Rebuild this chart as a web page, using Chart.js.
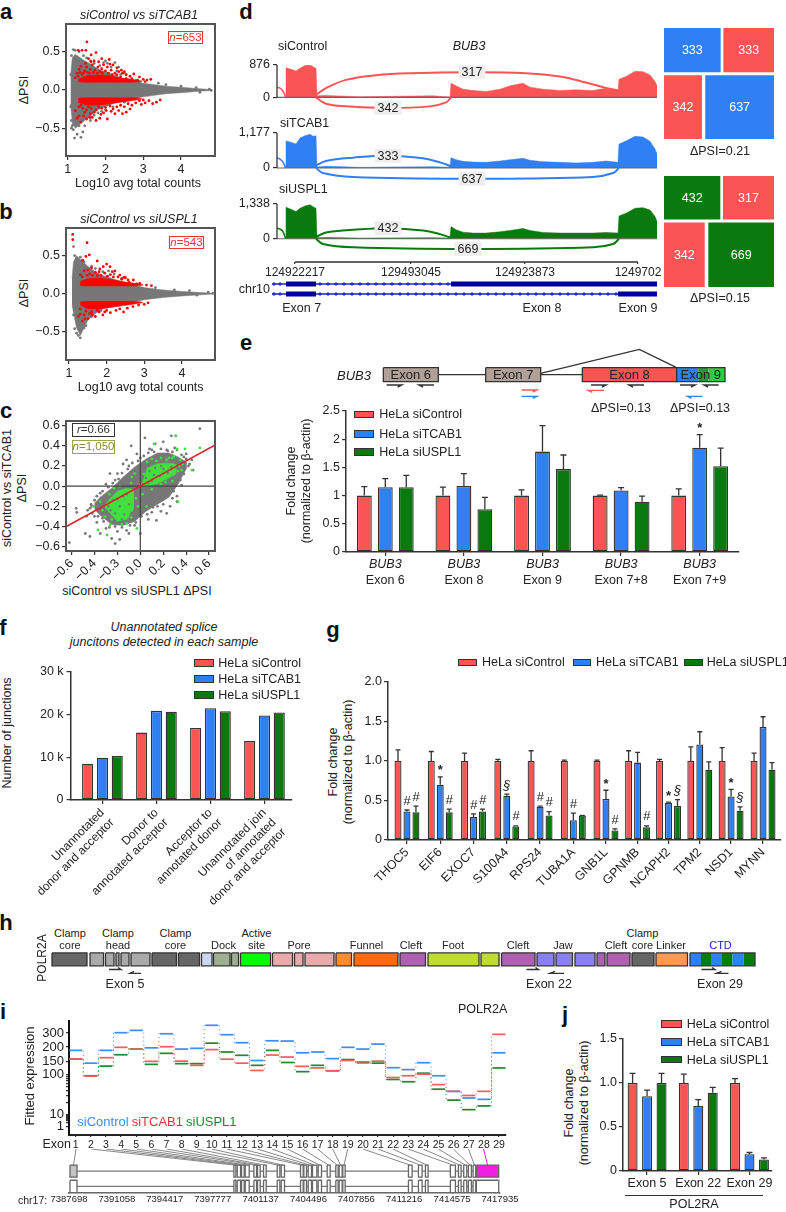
<!DOCTYPE html>
<html>
<head>
  <title>Splicing figure</title>
  <script src="https://cdn.jsdelivr.net/npm/chart.js"></script>
  <style>
    html, body { margin: 0; background: #fff; }
    #page { position: relative; width: 786px; height: 1212px; overflow: hidden; font-family: "Liberation Sans", Arial, sans-serif; color: #222; }
    #page canvas { position: absolute; display: block; }
    .t { position: absolute; white-space: nowrap; line-height: 1; }
    .sw { position: absolute; box-sizing: border-box; border: 1.5px solid #333; }
  </style>
</head>
<body>
<div id="page"></div>
<script>
// colours
const RED = '#fb5454', BLUE = '#2f80f2', GREEN = '#0a7a0f', DARK = '#333';

// panel a
const aEnvX = [1.08,1.12,1.2,1.4,1.6,1.8,2,2.2,2.4,2.6,2.8,3,3.3,3.6,4,4.4,4.8];
const aEnvUp = [.2,.42,.47,.4,.34,.28,.24,.2,.16,.13,.11,.09,.07,.05,.035,.02,.005];
const aEnvLow = [-.2,-.42,-.5,-.42,-.34,-.26,-.22,-.18,-.15,-.13,-.11,-.09,-.07,-.05,-.035,-.02,-.005];
const aBandX = [1.28,1.5,1.8,2.1,2.4,2.7,2.95];
const aBandUp = [.14,.19,.2,.19,.16,.14,.12];
const aBandUpIn = [.105,.1,.1,.1,.1,.1,.11];
const aBandLow = [-.16,-.2,-.2,-.18,-.16,-.14,-.12];
const aBandLowIn = [-.105,-.1,-.1,-.1,-.1,-.1,-.11];
const aRed = [[1.51,.63],[1.38,.52],[1.28,.52],[1.48,.52],[1.75,.49],[1.62,.46],[1.9,.41],[2.1,.4],[1.7,.38],[1.55,.41],[1.35,.31],[1.5,.3],[1.65,.33],[1.8,.3],[1.95,.33],[2.05,.3],[2.2,.33],[2.3,.29],[2.15,.26],[2.35,.24],[1.25,.22],[1.3,.27],[1.45,.25],[1.6,.27],[1.72,.26],[1.85,.24],[2,.25],[2.45,.22],[2.55,.2],[2.65,.18],[2.75,.21],[2.7,.15],[2.9,.17],[3,.14],[3.1,.13],[3.2,.14],[2.85,.13],[2.5,.24],[2.25,.22],[1.42,.22],[2.6,.13],[3.05,.11],[2.4,.17],
  [1.33,.23],[1.38,.2],[1.52,.23],[1.58,.22],[1.68,.23],[1.78,.22],[1.92,.22],[2.08,.22],[2.18,.2],[2.3,.2],[1.28,.18],[1.47,.35],[1.9,.28],[2.12,.34],[2.42,.26],[1.62,.37],[1.82,.37],[1.2,.16],[2.8,.12],[2.55,.15],
  [1.3,-.34],[1.45,-.29],[1.25,-.37],[1.2,-.27],[1.5,-.38],[1.35,-.42],[1.65,-.36],[1.75,-.4],[1.85,-.37],[1.95,-.3],[2.05,-.38],[1.6,-.31],[1.9,-.24],[2.15,-.28],[2.25,-.31],[2.35,-.27],[2.45,-.31],[2.55,-.29],[2.65,-.25],[2.3,-.22],[2.5,-.22],[2.7,-.2],[2.8,-.17],[2.95,-.19],[3.05,-.17],[3.15,-.14],[3.25,-.18],[3.35,-.16],[3.45,-.13],[2.6,-.18],[1.4,-.24],[1.55,-.22],[1.75,-.26],[1.3,-.22],
  [1.35,-.2],[1.62,-.24],[1.82,-.22],[2,-.23],[2.12,-.21],[2.4,-.2],[1.5,-.26],[1.7,-.29],[2.2,-.25],[1.42,-.34],[1.58,-.36],[1.88,-.32],[2.02,-.27],[2.9,-.14],[3,-.13]];
const aGray = [[1.15,.53],[1.2,.52],[1.3,.5],[1.1,.45],[1.12,.22],[1.08,.2],[1.1,-.2],[1.08,-.22],[1.1,-.4],[1.1,-.5],[1.15,-.52],[1.18,-.63],[1.35,-.62],[1.4,-.55],[1.25,-.58],[1.12,-.47],[1.15,-.45],[2,.38],[2.25,.36],[2.35,.3],[1.95,.36],[2.5,.22],[2.6,.12],[2.9,.09],[3.4,.09],[3.6,.07],[4,.05],[4.4,.03],[4.75,.01],[4.8,-.005],[4.5,-.03],[1.6,-.4],[1.45,-.47],[1.3,-.47],
  [1.7,.35],[1.85,.32],[2.05,.35],[2.15,.3],[2.3,.25],[1.5,.42],[1.42,.45],[1.6,.38],[2.4,.2],[2.7,.13],[1.6,-.36],[1.8,-.3],[2,-.26],[2.2,-.22],[2.5,-.16],[1.7,-.33],[1.9,-.28]];

// panel b
const bEnvX = [1.08,1.12,1.2,1.3,1.5,1.7,1.9,2.2,2.6,3,3.5,4,4.5,4.85];
const bEnvUp = [.2,.42,.5,.45,.36,.29,.24,.19,.13,.08,.05,.03,.015,.003];
const bEnvLow = [-.15,-.25,-.45,-.55,-.35,-.26,-.2,-.17,-.12,-.08,-.05,-.03,-.015,-.003];
const bBandX = [1.3,1.5,1.8,2.1,2.4,2.7,2.95];
const bBandUp = [.16,.2,.21,.19,.16,.14,.12];
const bBandUpIn = [.105,.1,.1,.1,.1,.1,.11];
const bBandLow = [-.15,-.2,-.2,-.18,-.16,-.14,-.12];
const bBandLowIn = [-.105,-.1,-.1,-.1,-.1,-.1,-.11];
const bRed = [[1.1,.78],[1.1,.71],[1.48,.67],[1.54,.51],[1.45,.49],[1.36,.44],[2,.39],[1.91,.355],[2.09,.355],[1.75,.43],[1.82,.325],[2.22,.3],[2.35,.245],[2.46,.215],[2.57,.18],[2.71,.18],[2.88,.136],[3.06,.114],[3.19,.105],[1.4,.3],[1.6,.34],[1.7,.28],[1.3,.25],[1.55,.26],[1.95,.27],[2.1,.25],[2.3,.22],[2.5,.21],[1.85,.24],
  [1.35,.22],[1.48,.24],[1.62,.24],[1.75,.24],[2.02,.23],[2.18,.22],[2.4,.19],[1.5,.31],[1.8,.29],[2.15,.29],[2.6,.15],[2.8,.13],
  [1.3,-.2],[1.4,-.28],[1.5,-.33],[1.55,-.26],[1.7,-.3],[1.25,-.3],[1.35,-.36],[1.8,-.24],[1.9,-.28],[2,-.22],[2.1,-.25],[2.25,-.22],[2.35,-.2],[2.45,-.24],[2.55,-.19],[2.7,-.17],[2.85,-.15],[3,-.14],[3.1,-.12],[1.6,-.24],[1.45,-.23],[1.75,-.22],[1.3,-.27],[1.42,-.33],[1.62,-.28],[1.95,-.24]];
const bGray = [[1.12,.62],[1.15,.5],[1.2,.46],[1.3,.48],[1.4,.42],[1.7,.33],[2.2,.26],[2.4,.2],[2.8,.12],[3.3,.08],[3.8,.05],[4.2,.04],[4.7,.02],[4.82,.005],[1.12,-.28],[1.2,-.52],[1.3,-.58],[1.25,-.55],[1.15,-.46],[1.45,-.42],[4.4,-.02],[1.6,.36],[1.9,.29],[2.05,.3],[1.4,-.45],[1.6,-.3],[1.85,-.22]];

// panel c
const cEnvX = [-.4,-.35,-.25,-.15,-.05,.05,.15,.25,.33,.4];
const cEnvUp = [-.17,-.11,-.02,.09,.19,.27,.33,.33,.29,.24];
const cEnvLow = [-.23,-.29,-.38,-.39,-.35,-.25,-.18,-.11,.02,.17];
const cLobeLeftX = [-.31,-.27,-.2,-.12,-.06];
const cLobeLeftUp = [-.19,-.13,-.05,-.02,-.03];
const cLobeLeftLow = [-.21,-.26,-.35,-.33,-.23];
const cLobeRightX = [.02,.06,.14,.23,.31];
const cLobeRightUp = [.04,.18,.22,.23,.22];
const cLobeRightLow = [0,0,.02,.07,.12];
const cGray = [[.52,.57],[.31,.5],[.27,.5],[.04,.48],[-.08,.4],[.13,.42],[.2,.44],[.4,.32],[.45,.26],[.46,.16],[.36,.01],[.32,-.1],[.32,-.155],[.23,-.27],[.14,-.34],[0,-.47],[-.1,-.47],[-.18,-.53],[-.22,-.57],[-.25,-.52],[-.35,-.47],[-.48,-.47],[-.44,-.5],[-.62,-.56],[-.56,-.22],[-.555,-.26],[-.46,-.24],[-.4,-.14],[-.425,-.2],[-.35,-.07],[-.265,.125],[-.2,.125],[-.15,.22],[-.12,.26],[-.03,.32],[.08,.37],[.23,.36],[.32,.36],[.38,.29],[.26,-.2],[.18,-.25],[.07,-.33],[-.05,-.39],[-.3,-.42],[-.38,-.36],[-.47,-.3],
  [-.3,.02],[-.22,.06],[-.1,.2],[0,.28],[.1,.36],[.3,.38],[.42,.2],[.28,-.12],[.2,-.18],[.1,-.26],[-.12,-.44],[-.2,-.45],[-.32,-.35],[-.4,-.3],[-.44,-.22],
  [-.38,-.1],[-.33,-.05],[-.28,-.01],[-.24,.03],[-.19,.07],[-.16,.13],[-.11,.17],[-.07,.23],[-.02,.25],[.03,.3],[.07,.33],[.12,.34],[.18,.37],[.24,.35],[.28,.34],[.36,.31],[.4,.27],[.43,.22],[.38,.12],[.35,.06],[.31,.01],[.29,-.05],[.24,-.1],[.2,-.13],[.15,-.2],[.11,-.21],[.06,-.28],[.01,-.3],[-.04,-.36],[-.09,-.39],[-.16,-.41],[-.22,-.4],[-.27,-.41],[-.33,-.32],[-.37,-.3],[-.42,-.27],[-.43,-.18]];
const cSpeckle = [[-.28,-.2],[-.24,-.14],[-.22,-.27],[-.18,-.2],[-.15,-.1],[-.14,-.28],[-.1,-.18],[-.08,-.27],[-.16,-.33],[-.26,-.24],[.05,.08],[.08,.15],[.1,.05],[.13,.18],[.17,.1],[.2,.17],[.24,.13],[.27,.19],[.12,.11],[.07,.03],[.18,.2],[-.2,-.13],[-.12,-.08]];
const cGreen = [[.31,.5],[.12,.42],[.52,.38],[.39,.37],[.32,.37],[.29,.29],[.37,.22],[.45,.16],[.36,.16],[.33,-.155],[-.35,-.155],[-.41,-.2],[-.37,-.435],[-.29,-.485],[-.265,-.385],[-.12,-.37],[-.03,-.42],[-.19,-.3],[.055,-.2],[-.05,.125],[-.075,.09],[.25,.28],[.35,.26],
  [-.31,-.3],[-.25,-.33],[-.16,-.38],[-.08,-.31],[-.02,-.2],[.02,-.08],[.03,.12],[.1,.27],[.18,.28],[.28,.28],[.34,.2],[.28,.05],[.18,.02],[-.27,-.08],[-.18,0],[-.08,.03],[-.33,-.24],[-.23,-.02],[-.04,-.12],[.0,.02],[.06,.24],[.14,.25],[.23,.26],[.33,.15],[.22,.04],[.1,-.03]];
const cLineX = [-.65,.65];
const cLineY = [-.403,.406];
const cXTicks = [-.6,-.4,-.2,0,.2,.4,.6];
const cXLabels = ['\u22120.6','\u22120.4','\u22120.3','0.0','0.2','0.4','0.6'];
const cYTicks = [-.6,-.4,-.2,0,.2,.4,.6];
const cYLabels = ['\u22120.6','\u22120.4','\u22120.2','0.0','0.2','0.4','0.6'];

// panel d: read coverage along the locus
const dPos = [9,9,14,19,23,28,33,36,39,40,49,83,156,173,174,179,186,196,209,223,233,246,253,266,283,299,316,329,341,342,349,358,366,373,378,380,380];
const dControl = [0,805,760,715,787,865,876,831,787,45,54,18,45,9,384,313,224,188,161,224,313,384,277,224,188,206,188,250,188,492,563,706,697,608,429,313,0];
const dTCAB = [0,907,862,806,1008,1086,1131,1064,1086,34,56,22,45,22,347,280,224,202,190,235,280,325,258,213,190,168,190,235,190,806,907,1064,1042,896,638,482,0];
const dUSPL = [0,1210,1134,1045,1172,1261,1312,1236,1172,38,51,25,38,25,471,344,255,217,217,268,319,395,319,242,217,217,217,242,217,879,981,1172,1198,1108,854,662,0];
const arcRedUpX = [39,49,69,99,133,195,249,283,309,329,341];
const arcRedUpY = [72,250,474,599,653,679,653,563,402,259,188];
const arcRedLowX = [39,49,69,111,153,169,174];
const arcRedLowY = [0,-170,-241,-286,-241,-134,0];
const arcBlueUpX = [39,49,76,111,146,163,174];
const arcBlueUpY = [90,235,347,414,325,190,56];
const arcBlueLowX = [39,46,76,195,316,336,342];
const arcBlueLowY = [0,-168,-302,-358,-302,-168,0];
const arcGreenUpX = [39,49,76,111,146,163,174];
const arcGreenUpY = [64,242,344,408,319,178,38];
const arcGreenLowX = [39,46,76,191,316,336,342];
const arcGreenLowY = [0,-204,-331,-395,-331,-204,0];
const stubX = [0,3,6,8.6];
const stubRedY = [277,250,170,0];
const stubBlueY = [336,300,200,0];
const stubGreenY = [408,370,270,0];
const dRulerTicks = [18,134,248,361];
const dRulerLabels = ['124922217','129493045','124923873','1249702'];
const dTrackTicksA = [-3,3,43,51,59,67,75,83,91,99,107,115,123,131,139,147,155,163,171];
const dTrackTicksB = [-3,3,43,51,59,67,75,83,91,99,107,115,123,131,139,147,155,163,171,179,187,195,203,211,219,227,235,243,251,259,267,275,283,291,299,307,315,323,331,339];
const mosaicACounts = [333,333,342,637];
const mosaicAColors = [BLUE,RED,RED,BLUE];
const mosaicAX = [[0,.515],[.54,1],[0,.345],[.375,1]];
const mosaicAY = [[0,.398],[0,.398],[.425,1],[.425,1]];
const mosaicBCounts = [432,317,342,669];
const mosaicBColors = [GREEN,RED,RED,GREEN];
const mosaicBX = [[0,.512],[.536,1],[0,.37],[.403,1]];
const mosaicBY = [[0,.391],[0,.391],[.418,1],[.418,1]];

// panel e
const eLabels = ['Exon 6','Exon 8','Exon 9','Exon 7+8','Exon 7+9'];
const ePos = [1,2,3,4,5];
const eControl = [1,1,1,1,1];
const eControlErr = [.16,.15,.1,.01,.12];
const eTCAB = [1.15,1.17,1.78,1.09,1.85];
const eTCABErr = [.15,.22,.46,.05,.23];
const eTCABMarks = ['','','','','*'];
const eUSPL = [1.15,.76,1.47,.89,1.52];
const eUSPLErr = [.21,.21,.25,.1,.32];

// panel f
const fLabels = [['Unannotated','donor and acceptor'],['Donor to','annotated acceptor'],['Acceptor to','annotated donor'],['Unannotated join','of annotated','donor and acceptor']];
const fPos = [1,2,3,4];
const fControl = [8500,15800,16900,13800];
const fTCAB = [9900,20900,21500,19800];
const fUSPL = [10300,20700,20800,20500];

// panel g
const gGenes = ['THOC5','EIF6','EXOC7','S100A4','RPS24','TUBA1A','GNB1L','GPNMB','NCAPH2','TPM2','NSD1','MYNN'];
const gPos = [1,2,3,4,5,6,6.98,7.93,8.86,9.8,10.74,11.7];
const gControl = [1,1,1,1,1,1,1,1,1,1,1,1];
const gControlErr = [.14,.12,.1,.02,.13,.01,.01,.13,.02,.18,.17,.1];
const gTCAB = [.36,.7,.29,.56,.42,.25,.52,.98,.47,1.21,.55,1.43];
const gTCABErr = [.02,.1,.04,.02,.01,.09,.11,.13,.01,.16,.09,.13];
const gTCABMarks = ['#','*','#','\u00a7','#','#','*','','*','','*',''];
const gUSPL = [.35,.35,.36,.17,.31,.31,.12,.16,.43,.89,.37,.89];
const gUSPLErr = [.08,.04,.03,.01,.05,0,.02,.02,.08,.1,.05,.09];
const gUSPLMarks = ['#','#','#','#','#','','#','#','\u00a7','','\u00a7',''];

// panel h: protein domains along POLR2A
const hStart = [104,180,211,232,242,262,304,357,403,427,463,481,545,589,610,672,708,800,856,962,1003,1074,1112,1150,1194,1214,1264,1312,1380,1402,1422,1444,1465,1487];
const hEnd = [174,207,228,238,258,300,353,399,424,460,477,541,585,606,668,703,796,851,958,998,1070,1108,1145,1190,1210,1260,1308,1375,1402,1422,1444,1465,1487,1510];
const hColors = ['#666','#aaa','#aaa','#aaa','#aaa','#aaa','#666','#666','#c8d8f0','#9fb090','#9fb090','#0f0','#e8aaaa','#e8aaaa','#e8aaaa','#ff8c33','#ff6a10','#b060b0','#c0dc30','#c0dc30','#b060b0','#8a80f0','#8a80f0','#8a80f0','#b060b0','#b060b0','#666','#ff9955',BLUE,GREEN,BLUE,GREEN,BLUE,GREEN];

// panel i
const iExons = [1,2,3,4,5,6,7,8,9,10,11,12,13,14,15,16,17,18,19,20,21,22,23,24,25,26,27,28,29];
const iControl = [187,141,187,303,324,197,294,192,195,375,286,227,152,240,238,178,181,158,199,192,218,123,116,143,93,38,26,24,178];
const iTCAB = [157,91,161,199,192,149,202,150,132,190,156,141,113,170,163,128,122,112,152,147,150,84,93,101,56,38,30,38,289];
const iUSPL = [157,93,129,171,192,136,176,139,139,224,181,169,132,187,144,109,132,112,155,143,141,75,66,104,43,23,13.3,16.5,122];
const iYMajor = [1,10,100,150,200,300];
const iYMinor = [2,3,4,5,6,7,8,9,20,30,40,50,60,70,80,90];
const iAxisAnchor = [0,12,52,65.3,79.3,93.3];
const iGeneStart = [7387768,7399266,7399500,7399804,7400061,7400668,7400925,7401346,7402304,7402585,7403940,7404174,7404478,7404781,7405179,7405810,7406417,7406651,7406908,7411512,7412213,7412704,7414456,7415018,7415391,7415718,7416046,7416279];
const iGeneEnd = [7388259,7399406,7399734,7399991,7400341,7400855,7401112,7401533,7402491,7402818,7404127,7404361,7404711,7405085,7405412,7406020,7406581,7406861,7407072,7411769,7412470,7412891,7414807,7415204,7415602,7415929,7416233,7417845];
const iChrom = [7387698,7391058,7394417,7397777,7401137,7404496,7407856,7411216,7414575,7417935];

// panel j
const jLabels = ['Exon 5','Exon 22','Exon 29'];
const jPos = [1,2,3];
const jControl = [1,1,1];
const jControlErr = [.11,.1,.05];
const jTCAB = [.85,.74,.19];
const jTCABErr = [.07,.07,.02];
const jUSPL = [1,.89,.13];
const jUSPLErr = [.11,.06,.02];

Chart.defaults.font.family = '"Liberation Sans", Arial, sans-serif';
Chart.defaults.font.size = 12.5;
Chart.defaults.color = '#222';
Chart.defaults.animation = false;
Chart.defaults.plugins.legend.display = false;
Chart.defaults.plugins.tooltip.enabled = false;

const page = document.getElementById('page');

// error bars + significance marks, box captions, arc tags
Chart.register({
  id: 'extras',
  afterDatasetsDraw(chart) {
    const ctx = chart.ctx;
    chart.data.datasets.forEach((ds, i) => {
      const meta = chart.getDatasetMeta(i);
      if (ds.errs) {
        const y = chart.scales.y;
        meta.data.forEach((el, j) => {
          const top = y.getPixelForValue(ds.data[j].y + ds.errs[j]);
          ctx.strokeStyle = DARK;
          ctx.lineWidth = 1.3;
          ctx.beginPath();
          ctx.moveTo(el.x, el.y);
          ctx.lineTo(el.x, top);
          ctx.moveTo(el.x - (ds.cap || 3), top);
          ctx.lineTo(el.x + (ds.cap || 3), top);
          ctx.stroke();
          if (ds.marks && ds.marks[j]) {
            ctx.fillStyle = '#222';
            ctx.textAlign = 'center';
            ctx.textBaseline = 'middle';
            ctx.font = (ds.marks[j] === '*' ? 'bold 13px ' : 'italic 13px ') + Chart.defaults.font.family;
            ctx.fillText(ds.marks[j], el.x, top - (ds.marks[j] === '*' ? 6 : 9));
          }
        });
      }
      if (ds.tag) {
        const p = meta.data[ds.tagAt];
        ctx.font = '12.5px ' + Chart.defaults.font.family;
        const w = ctx.measureText(ds.tag).width + 6;
        ctx.fillStyle = '#eee';
        ctx.fillRect(p.x - w / 2, p.y - 7, w, 14);
        ctx.fillStyle = '#222';
        ctx.textAlign = 'center';
        ctx.textBaseline = 'middle';
        ctx.fillText(ds.tag, p.x, p.y + .5);
      }
      if (ds.caption) {
        ctx.font = (ds.captionFont || '12.5px ') + Chart.defaults.font.family;
        ctx.fillStyle = ds.captionColor || '#222';
        ctx.textAlign = 'center';
        ctx.textBaseline = 'middle';
        ctx.fillText(ds.caption, (meta.data[0].x + meta.data[2].x) / 2, (meta.data[0].y + meta.data[2].y) / 2 + .5);
      }
    });
  }
});

// box around a plot
Chart.register({
  id: 'frame',
  afterDraw(chart, args, opts) {
    if (!opts.color) return;
    const a = chart.chartArea;
    chart.ctx.strokeStyle = opts.color;
    chart.ctx.lineWidth = opts.width || 2;
    chart.ctx.strokeRect(a.left, a.top, a.right - a.left, a.bottom - a.top);
  }
});

// italic gene name above each tick label in panel e
Chart.register({
  id: 'groupTitle',
  afterDraw(chart, args, opts) {
    if (!opts.text) return;
    const ctx = chart.ctx;
    ctx.font = 'italic 12.5px ' + Chart.defaults.font.family;
    ctx.fillStyle = '#222';
    ctx.textAlign = 'center';
    ctx.textBaseline = 'middle';
    chart.scales.x.ticks.forEach(tk => ctx.fillText(opts.text, chart.scales.x.getPixelForValue(tk.value), chart.chartArea.bottom + opts.gap));
  }
});

// leader lines from the exon numbers down to the gene model
Chart.register({
  id: 'leaders',
  beforeDatasetsDraw(chart, args, opts) {
    if (!opts.exons) return;
    const ctx = chart.ctx, xe = chart.scales.xe, x = chart.scales.x, y = chart.scales.y;
    opts.exons.forEach((n, i) => {
      if (i >= iGeneStart.length) return;
      ctx.strokeStyle = i === iGeneStart.length - 1 ? '#d020c0' : '#888';
      ctx.lineWidth = 1;
      ctx.beginPath();
      ctx.moveTo(xe.getPixelForValue(n), y.getPixelForValue(447));
      ctx.lineTo(x.getPixelForValue((iGeneStart[i] + iGeneEnd[i]) / 2), y.getPixelForValue(495));
      ctx.stroke();
    });
  }
});

// chart whose plot area sits exactly at (x,y,w,h) on the page; m = room for axes
function place(x, y, w, h, m, config) {
  const c = document.createElement('canvas');
  c.width = Math.round(w + m.l + m.r);
  c.height = Math.round(h + m.t + m.b);
  c.style.left = (x - m.l) + 'px';
  c.style.top = (y - m.t) + 'px';
  page.appendChild(c);
  const s = config.options.scales;
  let pad = { left: m.l, right: m.r, top: m.t, bottom: m.b };
  Object.keys(s).forEach(k => {
    if (s[k].display === false) return;
    if (k === 'y') { s[k].afterFit = sc => { sc.width = m.l; }; pad.left = 0; }
    if (k === 'x') { s[k].afterFit = sc => { sc.height = m.b; }; pad.bottom = 0; }
  });
  config.options.responsive = false;
  config.options.maintainAspectRatio = false;
  config.options.layout = { autoPadding: false, padding: pad };
  return new Chart(c, config);
}

// linear axis with the ticks exactly where we ask
function axis(min, max, at, labels, extra) {
  extra = extra || {};
  return Object.assign({
    type: 'linear', min, max,
    afterBuildTicks: s => { s.ticks = at.map(v => ({ value: v })); },
    offset: false
  }, extra, {
    grid: Object.assign({ drawOnChartArea: false, tickLength: 4, color: DARK, lineWidth: 1.2, offset: false }, extra.grid),
    border: Object.assign({ color: DARK, width: 1.5 }, extra.border),
    ticks: Object.assign({
      autoSkip: false, maxRotation: 0, minRotation: 0, padding: 2, color: '#222',
      callback: (v, i) => (labels ? labels[i] : v)
    }, extra.ticks)
  });
}
const hidden = (min, max, extra) => Object.assign({ type: 'linear', min, max, display: false }, extra);

// dataset helpers
const dots = (pts, color, r) => ({ type: 'scatter', data: pts.map(p => ({ x: p[0], y: p[1] })), pointRadius: r || 1.4, pointBackgroundColor: color, pointBorderWidth: 0 });
const path = (xs, ys, color, width, extra) => Object.assign({ type: 'scatter', showLine: true, data: xs.map((x, i) => ({ x, y: ys[i] })), borderColor: color, borderWidth: width || 1, pointRadius: 0, fill: false }, extra);
const band = (xs, up, low, color) => ({
  type: 'scatter', showLine: true, fill: 'shape', backgroundColor: color, borderColor: color, borderWidth: .5, pointRadius: 0,
  data: xs.map((x, i) => ({ x, y: up[i] })).concat(xs.map((x, i) => ({ x, y: low[i] })).reverse())
});
const box = (x0, x1, y0, y1, fill, line, caption, extra) => Object.assign({
  type: 'scatter', showLine: true, fill: 'shape', backgroundColor: fill, borderColor: line || fill, borderWidth: line ? 1.3 : 0, pointRadius: 0, caption,
  data: [{ x: x0, y: y0 }, { x: x1, y: y0 }, { x: x1, y: y1 }, { x: x0, y: y1 }, { x: x0, y: y0 }]
}, extra);
const primer = (x0, x1, y, hookX, hookY, color) => path([x0, x1, hookX], [y, y, hookY], color, 1.4);
const paint = list => ({ datasets: list.slice().reverse() }); // later items end up on top

const barSets = (pos, list) => list.map(s => ({
  type: 'bar',
  data: pos.map((x, i) => ({ x, y: s.vals[i] })),
  backgroundColor: s.color, borderColor: DARK, borderWidth: 1.3, borderSkipped: false,
  errs: s.errs, marks: s.marks, cap: s.cap
}));

// page text
function t(x, y, html, o) {
  o = o || {};
  const d = document.createElement('div');
  d.className = 't';
  d.innerHTML = html;
  d.style.left = x + 'px';
  d.style.top = y + 'px';
  d.style.fontSize = (o.size || 12.5) + 'px';
  if (o.color) d.style.color = o.color;
  if (o.bold) d.style.fontWeight = 'bold';
  if (o.italic) d.style.fontStyle = 'italic';
  const ax = o.align === 'l' ? '0' : o.align === 'r' ? '-100%' : '-50%';
  d.style.transform = 'translate(' + ax + ',-50%)' + (o.rot ? ' rotate(' + o.rot + 'deg)' : '');
  page.appendChild(d);
}
function swatch(x, y, w, h, color, label, tx, size) {
  const d = document.createElement('div');
  d.className = 'sw';
  d.style.cssText = 'left:' + x + 'px;top:' + y + 'px;width:' + w + 'px;height:' + h + 'px;background:' + color;
  page.appendChild(d);
  t(tx, y + h / 2, label, { align: 'l', size: size || 12.5 });
}
function outlined(x, y, w, h, html, color, textColor) {
  const d = document.createElement('div');
  d.style.cssText = 'position:absolute;box-sizing:border-box;left:' + x + 'px;top:' + y + 'px;width:' + w + 'px;height:' + h + 'px;border:1.3px solid ' + color + ';background:#fff';
  page.appendChild(d);
  t(x + w / 2, y + h / 2, html, { color: textColor, size: 11.5 });
}

// ---- a
place(66, 24, 149, 132, { l: 30, r: 6, t: 12, b: 22 }, {
  type: 'scatter',
  data: paint([band(aEnvX, aEnvUp, aEnvLow, '#777'), dots(aGray, '#777'), band(aBandX, aBandUp, aBandUpIn, '#f00'), band(aBandX, aBandLow, aBandLowIn, '#f00'), dots(aRed, '#f00')]),
  options: {
    plugins: { frame: { color: '#555', width: 2 } },
    scales: {
      x: axis(.955, 4.9, [1, 2, 3, 4], ['1', '2', '3', '4']),
      y: axis(-.865, .865, [-.5, 0, .5], ['\u22120.5', '0.0', '0.5'])
    }
  }
});

// ---- b
place(66, 228, 149, 132, { l: 30, r: 6, t: 12, b: 22 }, {
  type: 'scatter',
  data: paint([band(bEnvX, bEnvUp, bEnvLow, '#777'), dots(bGray, '#777'), band(bBandX, bBandUp, bBandUpIn, '#f00'), band(bBandX, bBandLow, bBandLowIn, '#f00'), dots(bRed, '#f00')]),
  options: {
    plugins: { frame: { color: '#555', width: 2 } },
    scales: {
      x: axis(.92, 4.88, [1, 2, 3, 4], ['1', '2', '3', '4']),
      y: axis(-.872, .864, [-.5, 0, .5], ['\u22120.5', '0.0', '0.5'])
    }
  }
});

// ---- c
place(66, 420.7, 149, 130.3, { l: 30, r: 10, t: 12, b: 30 }, {
  type: 'scatter',
  data: paint([
    band(cEnvX, cEnvUp, cEnvLow, '#777'), dots(cGray, '#777'),
    band(cLobeLeftX, cLobeLeftUp, cLobeLeftLow, '#3fe03f'), band(cLobeRightX, cLobeRightUp, cLobeRightLow, '#3fe03f'), dots(cGreen, '#3fe03f'),
    dots(cSpeckle, '#777', 1.2),
    path([0, 0], [-.644, .647], '#444', 1.2), path([-.649, .652], [0, 0], '#444', 1.2),
    path(cLineX, cLineY, '#d8242a', 1.5)
  ]),
  options: {
    plugins: { frame: { color: '#555', width: 2 } },
    scales: {
      x: axis(-.649, .652, cXTicks, cXLabels, { ticks: { maxRotation: 45, minRotation: 45, padding: 1 } }),
      y: axis(-.644, .647, cYTicks, cYLabels)
    }
  }
});

// ---- d sashimi tracks
function sashimi(y, h, min, max, axisMax, label, values, color, stubY, arcs) {
  place(277.3, y, 379.7, h, { l: 40, r: 4, t: 12, b: 12 }, {
    type: 'scatter',
    data: paint([
      path(dPos, values, color, .5, { fill: 'origin', backgroundColor: color }),
      path(stubX, stubY, color, 1.6, { tension: .4 }),
      path([0, 380], [0, 0], '#666', 1.2),
      path([0, 0], [0, axisMax], DARK, 1.3, { clip: false })
    ].concat(arcs)),
    options: {
      scales: {
        x: hidden(0, 380),
        y: axis(min, max, [0, axisMax], ['0', label], { border: { display: false }, ticks: { padding: 3 } })
      }
    }
  });
}
sashimi(65, 48.3, -420, 876, 876, '876', dControl, RED, stubRedY, [
  path(arcRedUpX, arcRedUpY, RED, 2, { tension: .4, tag: '317', tagAt: 5 }),
  path(arcRedLowX, arcRedLowY, RED, 2, { tension: .4, tag: '342', tagAt: 3 })
]);
sashimi(133.3, 50, -504, 1177, 1177, '1,177', dTCAB, BLUE, stubBlueY, [
  path(arcBlueUpX, arcBlueUpY, BLUE, 2, { tension: .4, tag: '333', tagAt: 3 }),
  path(arcBlueLowX, arcBlueLowY, BLUE, 2, { tension: .4, tag: '637', tagAt: 3 })
]);
sashimi(204, 49.3, -548, 1338, 1338, '1,338', dUSPL, GREEN, stubGreenY, [
  path(arcGreenUpX, arcGreenUpY, GREEN, 2, { tension: .4, tag: '432', tagAt: 3 }),
  path(arcGreenLowX, arcGreenLowY, GREEN, 2, { tension: .4, tag: '669', tagAt: 3 })
]);

// ruler under the tracks
place(277.3, 258, 379.7, 4, { l: 30, r: 20, t: 0, b: 18 }, {
  type: 'scatter',
  data: paint([path([dRulerTicks[0], dRulerTicks[3]], [0, 0], DARK, 1.3, { clip: false })]),
  options: {
    scales: {
      x: axis(0, 380, dRulerTicks, dRulerLabels, { border: { display: false }, grid: { tickLength: 2, color: DARK }, ticks: { font: { size: 12 }, padding: 1 } }),
      y: hidden(0, 1)
    }
  }
});

// transcript rows
place(277.3, 279, 379.7, 20, { l: 12, r: 4, t: 0, b: 0 }, {
  type: 'scatter',
  data: paint([
    path([-5, 380], [2, 2], '#1a22c8', 1.5, { clip: false }),
    path([-5, 380], [1, 1], '#1a22c8', 1.5, { clip: false }),
    { type: 'scatter', clip: false, data: dTrackTicksA.map(x => ({ x, y: 2 })), pointStyle: 'cross', pointRadius: 2, pointBorderColor: '#1a22c8', pointBorderWidth: 1 },
    { type: 'scatter', clip: false, data: dTrackTicksB.map(x => ({ x, y: 1 })), pointStyle: 'cross', pointRadius: 2, pointBorderColor: '#1a22c8', pointBorderWidth: 1 },
    path([9, 39], [2, 2], '#00009a', 5), path([174, 380], [2, 2], '#00009a', 5),
    path([9, 39], [1, 1], '#00009a', 5), path([341, 380], [1, 1], '#00009a', 5)
  ]),
  options: { scales: { x: hidden(0, 380), y: hidden(.5, 2.5) } }
});

// mosaics
const mosaic = (y, h, counts, colors, xs, ys) => place(664.3, y, 110, h, { l: 0, r: 0, t: 0, b: 0 }, {
  type: 'scatter',
  data: paint(counts.map((n, i) => box(xs[i][0], xs[i][1], ys[i][0], ys[i][1], colors[i], null, String(n), { captionColor: '#fff', captionFont: '12.5px ' }))),
  options: { scales: { x: hidden(0, 1), y: hidden(0, 1, { reverse: true }) } }
});
mosaic(28, 111.3, mosaicACounts, mosaicAColors, mosaicAX, mosaicAY);
mosaic(176.3, 111, mosaicBCounts, mosaicBColors, mosaicBX, mosaicBY);

// ---- e gene model (units follow the exon drawing, left to right)
const BROWN = '#b0a097';
place(300, 346, 486, 54, { l: 0, r: 0, t: 0, b: 0 }, {
  type: 'scatter',
  data: paint([
    path([415, 557], [164, 164], DARK, 1.3), path([722, 847], [164, 164], DARK, 1.3),
    path([722, 1018, 1130], [160, 88, 143], DARK, 1.3),
    box(250, 415, 143, 185, BROWN, DARK, 'Exon 6', { captionFont: '13px ' }),
    box(557, 722, 143, 185, BROWN, DARK, 'Exon 7', { captionFont: '13px ' }),
    box(847, 1130, 143, 185, RED, DARK, 'Exon 8', { captionFont: '13px ' }),
    box(1130, 1195, 143, 185, BLUE),
    box(1195, 1225, 143, 185, '#18a03a'),
    box(1225, 1275, 143, 185, '#2ecc40'),
    box(1130, 1275, 143, 185, 'rgba(0,0,0,0)', DARK, 'Exon 9', { captionFont: '13px ' }),
    primer(260, 305, 195, 293, 201, DARK), primer(402, 357, 195, 369, 201, DARK),
    primer(665, 710, 210, 698, 216, RED), primer(665, 710, 229, 698, 235, BLUE),
    primer(873, 918, 195, 906, 201, DARK), primer(1032, 987, 195, 999, 201, DARK),
    primer(912, 865, 211, 877, 217, RED),
    primer(1140, 1185, 195, 1173, 201, DARK), primer(1256, 1212, 195, 1224, 201, DARK),
    primer(1207, 1163, 229, 1175, 235, BLUE)
  ]),
  options: { scales: { x: hidden(0, 1458), y: hidden(78, 240, { reverse: true }) } }
});

// ---- e bars
place(345.7, 411, 392.6, 140.7, { l: 30, r: 10, t: 12, b: 40 }, {
  type: 'bar',
  data: {
    datasets: barSets(ePos, [
      { vals: eControl, errs: eControlErr, color: RED },
      { vals: eTCAB, errs: eTCABErr, color: BLUE, marks: eTCABMarks },
      { vals: eUSPL, errs: eUSPLErr, color: GREEN }
    ])
  },
  options: {
    barPercentage: .71, categoryPercentage: .8,
    plugins: { groupTitle: { text: 'BUB3', gap: 13 } },
    scales: {
      x: axis(.5, 5.5, ePos, eLabels.map(s => ['', s]), { ticks: { padding: 3, font: { size: 12.5, lineHeight: 1.15 } } }),
      y: axis(0, 2.5, [0, .5, 1, 1.5, 2, 2.5], ['0', '0.5', '1', '1.5', '2', '2.5'])
    }
  }
});

// ---- f
place(53.3, 671.7, 239.4, 128, { l: 30, r: 10, t: 12, b: 110 }, {
  type: 'bar',
  data: {
    datasets: barSets(fPos, [
      { vals: fControl, color: RED }, { vals: fTCAB, color: BLUE }, { vals: fUSPL, color: GREEN }
    ])
  },
  options: {
    barPercentage: .75, categoryPercentage: .823,
    scales: {
      x: axis(.41, 4.51, fPos, fLabels, { ticks: { maxRotation: 45, minRotation: 45, padding: 2, font: { size: 12, lineHeight: 1.15 } } }),
      y: axis(0, 30000, [0, 10000, 20000, 30000], ['0', '10 k', '20 k', '30 k'], { ticks: { padding: 3 } })
    }
  }
});

// ---- g
place(388.3, 682.3, 393.4, 157.7, { l: 30, r: 4, t: 12, b: 60 }, {
  type: 'bar',
  data: {
    datasets: barSets(gPos, [
      { vals: gControl, errs: gControlErr, color: RED, cap: 2.5 },
      { vals: gTCAB, errs: gTCABErr, color: BLUE, marks: gTCABMarks, cap: 2.5 },
      { vals: gUSPL, errs: gUSPLErr, color: GREEN, marks: gUSPLMarks, cap: 2.5 }
    ])
  },
  options: {
    barPercentage: .78, categoryPercentage: .87,
    scales: {
      x: axis(.43, 12.24, gPos, gGenes, { ticks: { maxRotation: 45, minRotation: 45, padding: 1, font: { size: 12.5 } } }),
      y: axis(0, 2, [0, .5, 1, 1.5, 2], ['0', '0.5', '1.0', '1.5', '2.0'])
    }
  }
});

// ---- h domains (units follow the drawing)
place(0, 946.7, 786, 33.3, { l: 0, r: 0, t: 0, b: 0 }, {
  type: 'scatter',
  data: paint(hStart.map((s, i) => box(s, hEnd[i], 218, 257, hColors[i], i < 28 ? DARK : null)).concat([
    box(1380, 1510, 218, 257, 'rgba(0,0,0,0)', DARK),
    primer(218, 242, 268, 236, 262, DARK), primer(282, 260, 280, 268, 274, DARK),
    primer(1053, 1077, 268, 1071, 262, DARK), primer(1128, 1100, 280, 1110, 274, DARK),
    primer(1403, 1430, 268, 1424, 262, DARK), primer(1457, 1433, 280, 1443, 274, DARK)
  ])),
  options: { scales: { x: hidden(0, 1572), y: hidden(200, 300, { reverse: true }) } }
});

// ---- i expression by exon
const vst = v => {
  const lv = Math.log10(v), la = iYMajor.map(Math.log10);
  let k = 0;
  while (k < la.length - 2 && lv > la[k + 1]) k++;
  return iAxisAnchor[k] + (iAxisAnchor[k + 1] - iAxisAnchor[k]) * (lv - la[k]) / (la[k + 1] - la[k]);
};
const iYAll = iYMajor.concat(iYMinor);
const iSeries = (vals, color) => [
  path(iExons, vals.map(vst), color, 1, { stepped: 'middle', borderDash: [1, 3] }),
  { type: 'scatter', data: iExons.map((x, i) => ({ x, y: vst(vals[i]) })), pointStyle: 'line', pointRadius: 6.5, pointBorderColor: color, pointBorderWidth: 1.7, clip: false }
];
place(69.3, 1020.7, 436.7, 113.6, { l: 40, r: 10, t: 12, b: 16 }, {
  type: 'scatter',
  data: paint(iSeries(iControl, '#3d8ef0').concat(iSeries(iUSPL, '#1f8a2e'), iSeries(iTCAB, '#ee5f5f'))),
  options: {
    scales: {
      x: axis(.556, 29.46, iExons, iExons.map(String), { border: { color: '#222', width: 2 }, grid: { tickLength: 2 }, ticks: { padding: 2, font: { size: 10.5 } } }),
      y: axis(-8.3, 105.3, iYAll.map(vst), iYAll.map(v => (iYMajor.includes(v) ? String(v) : '')), { border: { color: '#111', width: 2 }, grid: { tickLength: 3 }, ticks: { padding: 2, font: { size: 13 } } })
    }
  }
});

// ---- i gene model
const iRowTop = iGeneStart.map((s, i) => box(s, iGeneEnd[i], 495, 531, i === 0 ? '#c4c4c4' : i === iGeneStart.length - 1 ? '#f020e0' : '#fff', '#666'));
const iRowLow = iGeneStart.map((s, i) => box(s, iGeneEnd[i], 540, 577, '#fff', '#666'));
place(69, 1149, 431.3, 43.7, { l: 25, r: 30, t: 0, b: 14 }, {
  type: 'scatter',
  data: paint([
    path([iGeneStart[0], iGeneEnd[27]], [513, 513], '#777', 1.2),
    path([iGeneStart[0], iGeneEnd[27]], [558, 558], '#777', 1.2)
  ].concat(iRowTop, iRowLow)),
  options: {
    plugins: { leaders: { exons: iExons } },
    scales: {
      x: axis(7387698, 7417935, iChrom, iChrom.map(String), { border: { color: '#666', width: 1.5 }, grid: { tickLength: 0 }, ticks: { padding: 1, font: { size: 9.5 } } }),
      xe: hidden(.537, 29.086, { axis: 'x' }),
      y: hidden(447, 578, { reverse: true })
    }
  }
});

// ---- j
place(623.3, 1038.7, 149.4, 131.6, { l: 30, r: 10, t: 12, b: 20 }, {
  type: 'bar',
  data: {
    datasets: barSets(jPos, [
      { vals: jControl, errs: jControlErr, color: RED },
      { vals: jTCAB, errs: jTCABErr, color: BLUE },
      { vals: jUSPL, errs: jUSPLErr, color: GREEN }
    ])
  },
  options: {
    barPercentage: .69, categoryPercentage: .848,
    scales: {
      x: axis(.53, 3.44, jPos, jLabels, { ticks: { padding: 1 } }),
      y: axis(0, 1.5, [0, .5, 1, 1.5], ['0', '0.5', '1.0', '1.5'])
    }
  }
});

// ---- text
const letters = [['a',6,12],['b',6,212],['c',6,411],['d',246,12],['e',246,343],['f',3,628],['g',333,630],['h',6,923],['i',3,1012],['j',565,1015]];
letters.forEach(l => t(l[1], l[2], l[0], { bold: true, size: 22, color: '#111' }));

t(139, 15, 'siControl vs siTCAB1', { italic: true });
t(139, 219, 'siControl vs siUSPL1', { italic: true });
t(24, 90, '\u0394PSI', { rot: -90 });
t(24, 293, '\u0394PSI', { rot: -90 });
t(138, 182.7, 'Log10 avg total counts');
t(140.7, 387.3, 'Log10 avg total counts');
outlined(168, 31, 35, 13, '<i>n</i>=653', '#e33', '#e33');
outlined(169, 236, 35, 13, '<i>n</i>=543', '#e33', '#e33');
outlined(72, 423, 43, 14, '<i>r</i>=0.66', '#333', '#333');
outlined(72, 440, 43, 14, '<i>n</i>=1,050', '#a3a050', '#8a8740');
t(7, 488, 'siControl vs siTCAB1', { rot: -90 });
t(22, 488, '\u0394PSI', { rot: -90 });
t(137, 590.7, 'siControl vs siUSPL1 \u0394PSI');

t(278, 46, 'siControl', { align: 'l' });
t(452.7, 46, 'BUB3', { align: 'l', italic: true });
t(280, 122.7, 'siTCAB1', { align: 'l' });
t(279, 188.7, 'siUSPL1', { align: 'l' });
t(270, 289, 'chr10', { align: 'r' });
t(301.7, 308, 'Exon 7');
t(542, 308, 'Exon 8');
t(638, 308, 'Exon 9');
t(720, 151, '\u0394PSI=0.21');
t(720, 297.7, '\u0394PSI=0.15');

t(354, 375, 'BUB3', { italic: true, size: 13 });
t(621, 408, '\u0394PSI=0.13');
t(700, 408, '\u0394PSI=0.13');
t(291, 481, 'Fold change', { rot: -90 });
t(306, 481, '(normalized to \u03b2-actin)', { rot: -90 });
swatch(354.3, 410.7, 20, 7.5, RED, 'HeLa siControl', 379.3);
swatch(354.3, 430, 20, 7.5, BLUE, 'HeLa siTCAB1', 379.3);
swatch(354.3, 448, 20, 7.5, GREEN, 'HeLa siUSPL1', 379.3);

t(164, 627.3, 'Unannotated splice', { italic: true });
t(164, 642.3, 'juncitons detected in each sample', { italic: true });
t(7, 733, 'Number of junctions', { rot: -90 });
swatch(193.7, 659.3, 20.5, 8, RED, 'HeLa siControl', 218.3);
swatch(193.7, 675, 20.5, 8, BLUE, 'HeLa siTCAB1', 218.3);
swatch(193.7, 690.7, 20.5, 8, GREEN, 'HeLa siUSPL1', 218.3);

t(333.3, 761.7, 'Fold change', { rot: -90 });
t(348.3, 761.7, '(normalized to \u03b2-actin)', { rot: -90 });
swatch(458.3, 658.5, 18.5, 7.5, RED, 'HeLa siControl', 482);
swatch(572.7, 658.5, 18.5, 7.5, BLUE, 'HeLa siTCAB1', 596);
swatch(684, 658.5, 18.5, 7.5, GREEN, 'HeLa siUSPL1', 706.7);

const hTop = [['Clamp',70],['Clamp',118],['Clamp',175.5],['Active',256.5],['Clamp',642.5]];
const hLow = [['core',70],['head',118],['core',175.5],['Dock',223.5],['site',256.5],['Pore',299],['Funnel',366.5],['Cleft',411],['Foot',453],['Cleft',518],['Jaw',563],['Cleft',616],['core',642.5],['Linker',671]];
hTop.forEach(l => t(l[1], 932.7, l[0], { size: 11 }));
hLow.forEach(l => t(l[1], 945.3, l[0], { size: 11 }));
t(720.5, 945.3, 'CTD', { size: 11, color: '#2222cc' });
t(42, 957.7, 'POLR2A', { rot: -90, size: 12 });
t(125, 984, 'Exon 5', { size: 12.5 });
t(549, 984, 'Exon 22', { size: 12.5 });
t(720, 984, 'Exon 29', { size: 12.5 });

t(482.7, 1009, 'POLR2A');
t(29, 1076, 'Fitted expression', { rot: -90, size: 13 });
t(77.3, 1121, 'siControl', { align: 'l', size: 13, color: '#3d8ef0' });
t(131.7, 1121, 'siTCAB1', { align: 'l', size: 13, color: '#d8383c' });
t(186, 1121, 'siUSPL1', { align: 'l', size: 13, color: '#1f8a2e' });
t(71, 1143.5, 'Exon', { align: 'r', size: 12.5 });
t(18, 1200, 'chr17:', { align: 'l', size: 10.5 });

t(569.3, 1103.3, 'Fold change', { rot: -90 });
t(584.3, 1103.3, '(normalized to \u03b2-actin)', { rot: -90 });
swatch(661, 1020, 20.7, 7.7, RED, 'HeLa siControl', 686.7);
swatch(661, 1038, 20.7, 7.7, BLUE, 'HeLa siTCAB1', 686.7);
swatch(661, 1055.7, 20.7, 7.7, GREEN, 'HeLa siUSPL1', 686.7);
const jRule = document.createElement('div');
jRule.style.cssText = 'position:absolute;left:625px;top:1195px;width:138px;height:1.2px;background:#333';
page.appendChild(jRule);
t(694, 1204, 'POL2RA');
</script>
</body>
</html>
